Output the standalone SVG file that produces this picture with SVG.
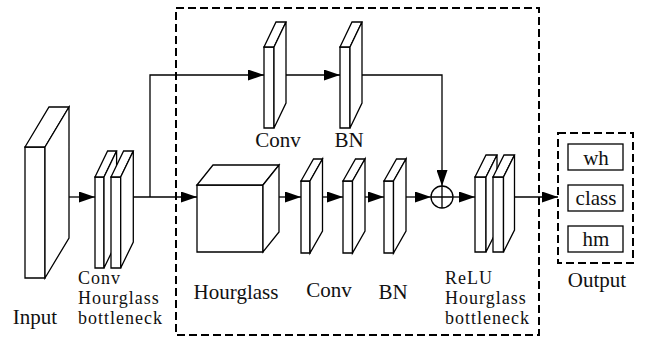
<svg xmlns="http://www.w3.org/2000/svg" width="646" height="338" viewBox="0 0 646 338">
<defs>
<style>
.s{fill:#fff;stroke:#000;stroke-width:1.3;stroke-linejoin:miter}
.c{fill:none;stroke:#000;stroke-width:1.3}
.d{fill:none;stroke:#000;stroke-width:2;stroke-dasharray:8 4}
.t{font-family:"Liberation Serif","Times New Roman",serif;fill:#111}
.big{font-size:21px}
.sm{font-size:18px;letter-spacing:1px}
</style>
<marker id="ah" markerUnits="userSpaceOnUse" markerWidth="16" markerHeight="11" refX="16" refY="5.5" orient="auto">
<path d="M0,0 L16,5.5 L0,11 Z" fill="#000"/>
</marker>
</defs>
<rect width="646" height="338" fill="#fff"/>

<g id="input">
<path class="s" d="M25,147 H45 V278 H25 Z"/>
<path class="s" d="M25,147 L49,107 L69,107 L45,147 Z"/>
<path class="s" d="M45,147 L69,107 L69,238 L45,278 Z"/>
<text class="t big" x="35" y="324" text-anchor="middle">Input</text>
</g>

<g id="conv-hg-bottleneck">
<path class="s" d="M95,177 H104 V268 H95 Z"/>
<path class="s" d="M95,177 L107.6,151 L116.6,151 L104,177 Z"/>
<path class="s" d="M104,177 L116.6,151 L116.6,242 L104,268 Z"/>
<path class="s" d="M111,177 H120.7 V268 H111 Z"/>
<path class="s" d="M111,177 L123.6,151 L133.3,151 L120.7,177 Z"/>
<path class="s" d="M120.7,177 L133.3,151 L133.3,242 L120.7,268 Z"/>
<text class="t sm" x="78" y="284">Conv</text>
<text class="t sm" x="78" y="304">Hourglass</text>
<text class="t sm" x="78" y="324">bottleneck</text>
</g>

<g id="top-conv">
<path class="s" d="M264,47 H274 V128 H264 Z"/>
<path class="s" d="M264,47 L276,22 L286,22 L274,47 Z"/>
<path class="s" d="M274,47 L286,22 L286,103 L274,128 Z"/>
<text class="t big" x="278" y="147" text-anchor="middle">Conv</text>
</g>

<g id="top-bn">
<path class="s" d="M340,47 H350 V128 H340 Z"/>
<path class="s" d="M340,47 L352,22 L362,22 L350,47 Z"/>
<path class="s" d="M350,47 L362,22 L362,103 L350,128 Z"/>
<text class="t big" x="349" y="147" text-anchor="middle">BN</text>
</g>

<g id="hourglass">
<path class="s" d="M197,185 H263 V252 H197 Z"/>
<path class="s" d="M197,185 L213,165 L279,165 L263,185 Z"/>
<path class="s" d="M263,185 L279,165 L279,232 L263,252 Z"/>
<text class="t big" x="236" y="299" text-anchor="middle">Hourglass</text>
</g>

<g id="conv">
<path class="s" d="M301,181 H310 V253 H301 Z"/>
<path class="s" d="M301,181 L313.5,159 L322.5,159 L310,181 Z"/>
<path class="s" d="M310,181 L322.5,159 L322.5,231 L310,253 Z"/>
<path class="s" d="M343,181 H352.5 V253 H343 Z"/>
<path class="s" d="M343,181 L355.5,159 L365,159 L352.5,181 Z"/>
<path class="s" d="M352.5,181 L365,159 L365,231 L352.5,253 Z"/>
<text class="t big" x="329" y="297" text-anchor="middle">Conv</text>
</g>

<g id="bn">
<path class="s" d="M384,181 H393.5 V253 H384 Z"/>
<path class="s" d="M384,181 L396.5,159 L406,159 L393.5,181 Z"/>
<path class="s" d="M393.5,181 L406,159 L406,231 L393.5,253 Z"/>
<text class="t big" x="393" y="299" text-anchor="middle">BN</text>
</g>

<g id="add">
<circle class="s" cx="442" cy="197" r="11"/>
<path class="c" d="M431,197 H453 M442,186 V208"/>
</g>

<g id="relu-hg-bottleneck">
<path class="s" d="M475,177 H486 V252 H475 Z"/>
<path class="s" d="M475,177 L486,155 L497,155 L486,177 Z"/>
<path class="s" d="M486,177 L497,155 L497,230 L486,252 Z"/>
<path class="s" d="M493,177 H503.5 V252 H493 Z"/>
<path class="s" d="M493,177 L504,155 L514.5,155 L503.5,177 Z"/>
<path class="s" d="M503.5,177 L514.5,155 L514.5,230 L503.5,252 Z"/>
<text class="t sm" x="445" y="284">ReLU</text>
<text class="t sm" x="445" y="304">Hourglass</text>
<text class="t sm" x="445" y="324">bottleneck</text>
</g>

<g id="output">
<rect class="d" x="558" y="133" width="75" height="130"/>
<rect class="s" x="568" y="144" width="55" height="26"/>
<rect class="s" x="568" y="185" width="55" height="26"/>
<rect class="s" x="568" y="226" width="55" height="26"/>
<text class="t big" x="596" y="165" text-anchor="middle">wh</text>
<text class="t big" x="596" y="205" text-anchor="middle">class</text>
<text class="t big" x="596" y="246" text-anchor="middle">hm</text>
<text class="t big" x="597" y="287" text-anchor="middle">Output</text>
</g>

<g id="module-box">
<rect class="d" x="176" y="8" width="363" height="327"/>
</g>

<g id="connectors">
<path class="c" d="M69,197 H95" marker-end="url(#ah)"/>
<path class="c" d="M133.3,197 H197" marker-end="url(#ah)"/>
<path class="c" d="M150,197 V75 H264" marker-end="url(#ah)"/>
<path class="c" d="M286,75 H340" marker-end="url(#ah)"/>
<path class="c" d="M362,75 H442 V186" marker-end="url(#ah)"/>
<path class="c" d="M279,197 H301" marker-end="url(#ah)"/>
<path class="c" d="M322.5,197 H343" marker-end="url(#ah)"/>
<path class="c" d="M365,197 H384" marker-end="url(#ah)"/>
<path class="c" d="M406,197 H431" marker-end="url(#ah)"/>
<path class="c" d="M453,197 H475" marker-end="url(#ah)"/>
<path class="c" d="M514.5,197 H558" marker-end="url(#ah)"/>
</g>
</svg>
